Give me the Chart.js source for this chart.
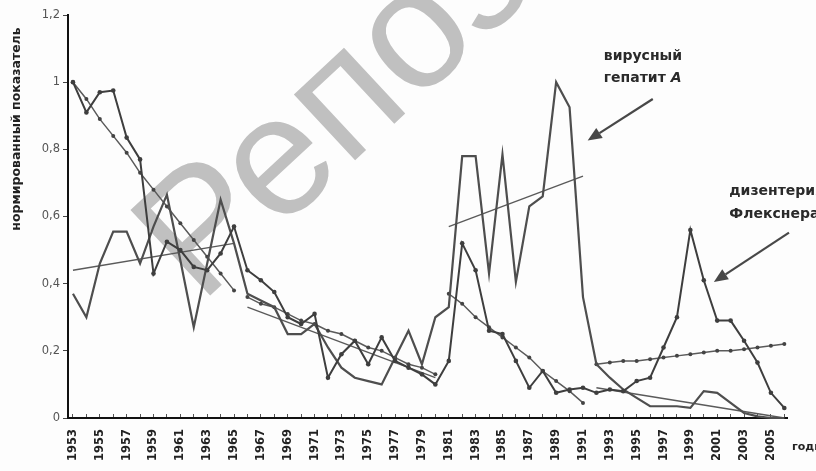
<!DOCTYPE html>
<html>
<head>
<meta charset="utf-8">
<script src="https://cdn.jsdelivr.net/npm/chart.js@4.4.1/dist/chart.umd.min.js"></script>
<style>
  html, body { margin: 0; padding: 0; background: #fdfdfd; }
  #wrap { width: 816px; height: 471px; }
</style>
</head>
<body>
<div id="wrap"><canvas id="chart" width="816" height="471"></canvas></div>
<script>
const years = [
  1953, 1954, 1955, 1956, 1957, 1958, 1959, 1960, 1961, 1962,
  1963, 1964, 1965, 1966, 1967, 1968, 1969, 1970, 1971, 1972,
  1973, 1974, 1975, 1976, 1977, 1978, 1979, 1980, 1981, 1982,
  1983, 1984, 1985, 1986, 1987, 1988, 1989, 1990, 1991, 1992,
  1993, 1994, 1995, 1996, 1997, 1998, 1999, 2000, 2001, 2002,
  2003, 2004, 2005, 2006,
];

// дизентерия Флекснера (line with markers)
const dysentery = [
  1.0, 0.91, 0.97, 0.975, 0.835, 0.77, 0.43, 0.525, 0.5, 0.45,
  0.44, 0.49, 0.57, 0.44, 0.41, 0.375, 0.3, 0.28, 0.31, 0.12,
  0.19, 0.23, 0.16, 0.24, 0.17, 0.15, 0.13, 0.1, 0.17, 0.52,
  0.44, 0.26, 0.25, 0.17, 0.09, 0.14, 0.075, 0.085, 0.09, 0.075,
  0.085, 0.08, 0.11, 0.12, 0.21, 0.3, 0.56, 0.41, 0.29, 0.29,
  0.23, 0.165, 0.075, 0.03,
];

// вирусный гепатит А (plain line)
const hepatitis = [
  0.37, 0.3, 0.46, 0.555, 0.555, 0.46, 0.57, 0.665, 0.47, 0.27,
  0.46, 0.65, 0.52, 0.37, 0.35, 0.33, 0.25, 0.25, 0.28, 0.21,
  0.15, 0.12, 0.11, 0.1, 0.18, 0.26, 0.16, 0.3, 0.33, 0.78,
  0.78, 0.43, 0.785, 0.405, 0.63, 0.66, 1.0, 0.925, 0.36, 0.16,
  0.12, 0.085, 0.06, 0.035, 0.035, 0.035, 0.03, 0.08, 0.075, 0.045,
  0.015, 0.005, 0.0, 0.0,
];

// trend pieces for dysentery (with markers), one value per year from the start year
const dysTrend1Start = 1953;
const dysTrend1 = [1.0, 0.95, 0.89, 0.84, 0.79, 0.73, 0.68, 0.63, 0.58, 0.53, 0.48, 0.43, 0.38];
const dysTrend2Start = 1966;
const dysTrend2 = [0.36, 0.34, 0.33, 0.31, 0.29, 0.28, 0.26, 0.25, 0.23, 0.21, 0.2, 0.18, 0.16, 0.15, 0.13];
const dysTrend3Start = 1981;
const dysTrend3 = [0.37, 0.34, 0.3, 0.27, 0.24, 0.21, 0.18, 0.14, 0.11, 0.08, 0.045];
const dysTrend4Start = 1992;
const dysTrend4 = [0.16, 0.165, 0.17, 0.17, 0.175, 0.18, 0.185, 0.19, 0.195, 0.2, 0.2, 0.205, 0.21, 0.215, 0.22];

// trend pieces for hepatitis (straight lines): [first year, last year] and values
const hepTrendYears = [[1953, 1965], [1966, 1980], [1981, 1991], [1992, 2006]];
const hepTrendValues = [[0.44, 0.52], [0.33, 0.12], [0.57, 0.72], [0.09, 0.0]];

const yTicks = [0, 0.2, 0.4, 0.6, 0.8, 1, 1.2];

function series(start, values) {
  return values.map((v, i) => ({ x: start + i, y: v }));
}

const dark = "#3e3e3e";
const mid = "#4e4e4e";
const thin = "#5a5a5a";

const datasets = [
  {
    data: series(years[0], dysentery),
    borderColor: dark,
    borderWidth: 2,
    pointRadius: 2.3,
    pointBackgroundColor: dark,
    pointBorderWidth: 0,
  },
  {
    data: series(years[0], hepatitis),
    borderColor: mid,
    borderWidth: 2.2,
    pointRadius: 0,
  },
];

[[dysTrend1Start, dysTrend1], [dysTrend2Start, dysTrend2], [dysTrend3Start, dysTrend3], [dysTrend4Start, dysTrend4]]
  .forEach(([start, vals]) => {
    datasets.push({
      data: series(start, vals),
      borderColor: thin,
      borderWidth: 1.5,
      pointRadius: 2,
      pointBackgroundColor: "#444",
      pointBorderWidth: 0,
    });
  });

hepTrendYears.forEach(([a, b], i) => {
  datasets.push({
    data: [{ x: a, y: hepTrendValues[i][0] }, { x: b, y: hepTrendValues[i][1] }],
    borderColor: thin,
    borderWidth: 1.4,
    pointRadius: 0,
  });
});

// annotation texts and arrows, positioned in data units (year, value)
const labels = [
  { text: "вирусный", x: 1992.55, y: 1.066 },
  { text: "гепатит", x: 1992.55, y: 1.0, tail: " А" },
  { text: "дизентерия", x: 2001.9, y: 0.663 },
  { text: "Флекснера", x: 2001.9, y: 0.597 },
];
const arrows = [
  { from: [1996.2, 0.95], to: [1991.35, 0.826] },
  { from: [2006.35, 0.552], to: [2000.75, 0.405] },
];

const decor = {
  id: "decor",
  beforeDatasetsDraw(chart) {
    const ctx = chart.ctx;
    ctx.save();
    ctx.translate(200, 305);
    ctx.rotate((-43 * Math.PI) / 180);
    ctx.font = '170px "Liberation Sans"';
    ctx.fillStyle = "#c0c0c0";
    ctx.fillText("Репозиторий", 0, 0);
    ctx.restore();
  },
  afterDraw(chart) {
    const { ctx, scales } = chart;
    const px = (v) => scales.x.getPixelForValue(v);
    const py = (v) => scales.y.getPixelForValue(v);
    ctx.save();
    ctx.fillStyle = "#2a2a2a";
    ctx.font = 'bold 14px "DejaVu Sans"';
    ctx.textBaseline = "alphabetic";
    labels.forEach((l) => {
      ctx.fillText(l.text, px(l.x), py(l.y));
      if (l.tail) {
        const w = ctx.measureText(l.text).width;
        ctx.font = 'italic bold 14px "DejaVu Sans"';
        ctx.fillText(l.tail, px(l.x) + w, py(l.y));
        ctx.font = 'bold 14px "DejaVu Sans"';
      }
    });

    ctx.strokeStyle = "#484848";
    ctx.fillStyle = "#484848";
    ctx.lineWidth = 2.2;
    arrows.forEach((a) => {
      const x1 = px(a.from[0]), y1 = py(a.from[1]);
      const x2 = px(a.to[0]), y2 = py(a.to[1]);
      const ang = Math.atan2(y2 - y1, x2 - x1);
      const hl = 14, hw = 6;
      const bx = x2 - hl * Math.cos(ang), by = y2 - hl * Math.sin(ang);
      ctx.beginPath();
      ctx.moveTo(x1, y1);
      ctx.lineTo(bx, by);
      ctx.stroke();
      ctx.beginPath();
      ctx.moveTo(x2, y2);
      ctx.lineTo(bx + hw * Math.sin(ang), by - hw * Math.cos(ang));
      ctx.lineTo(bx - hw * Math.sin(ang), by + hw * Math.cos(ang));
      ctx.closePath();
      ctx.fill();
    });

    // axis titles
    ctx.fillStyle = "#222";
    ctx.font = 'bold 12.5px "DejaVu Sans"';
    ctx.textAlign = "center";
    ctx.textBaseline = "middle";
    ctx.save();
    ctx.translate(17, 129);
    ctx.rotate(-Math.PI / 2);
    ctx.fillText("нормированный показатель", 0, 0);
    ctx.restore();
    ctx.font = 'bold 11px "DejaVu Sans"';
    ctx.textAlign = "left";
    ctx.fillText("годы", 792, 447);
    ctx.restore();
  },
};

new Chart(document.getElementById("chart"), {
  type: "line",
  data: { datasets },
  plugins: [decor],
  options: {
    responsive: false,
    animation: false,
    clip: 4,
    layout: { padding: { top: 15, right: 29, left: 0, bottom: 0 } },
    plugins: { legend: { display: false }, tooltip: { enabled: false } },
    elements: { line: { tension: 0 } },
    scales: {
      x: {
        type: "linear",
        min: 1952.63,
        max: 2006.2,
        afterBuildTicks: (s) => { s.ticks = years.map((v) => ({ value: v })); },
        afterFit: (s) => { s.height = 53; },
        ticks: {
          autoSkip: false,
          maxRotation: 90,
          minRotation: 90,
          padding: 15,
          color: "#222",
          font: { family: "DejaVu Sans", size: 11.5, weight: "bold" },
          callback: (v) => ((v - years[0]) % 2 === 0 ? String(v) : ""),
        },
        grid: { drawOnChartArea: false, drawTicks: true, tickLength: -4, color: "#555" },
        border: { color: "#111", width: 2 },
      },
      y: {
        min: 0,
        max: 1.2,
        afterBuildTicks: (s) => { s.ticks = yTicks.map((v) => ({ value: v })); },
        afterFit: (s) => { s.width = 68; },
        ticks: {
          padding: 3,
          color: "#555",
          font: { family: "DejaVu Sans", size: 11.5 },
          callback: (v) => String(Math.round(v * 10) / 10).replace(".", ","),
        },
        grid: { drawOnChartArea: false, drawTicks: true, tickLength: 5, color: "#444" },
        border: { color: "#111", width: 2 },
      },
    },
  },
});
</script>
</body>
</html>
